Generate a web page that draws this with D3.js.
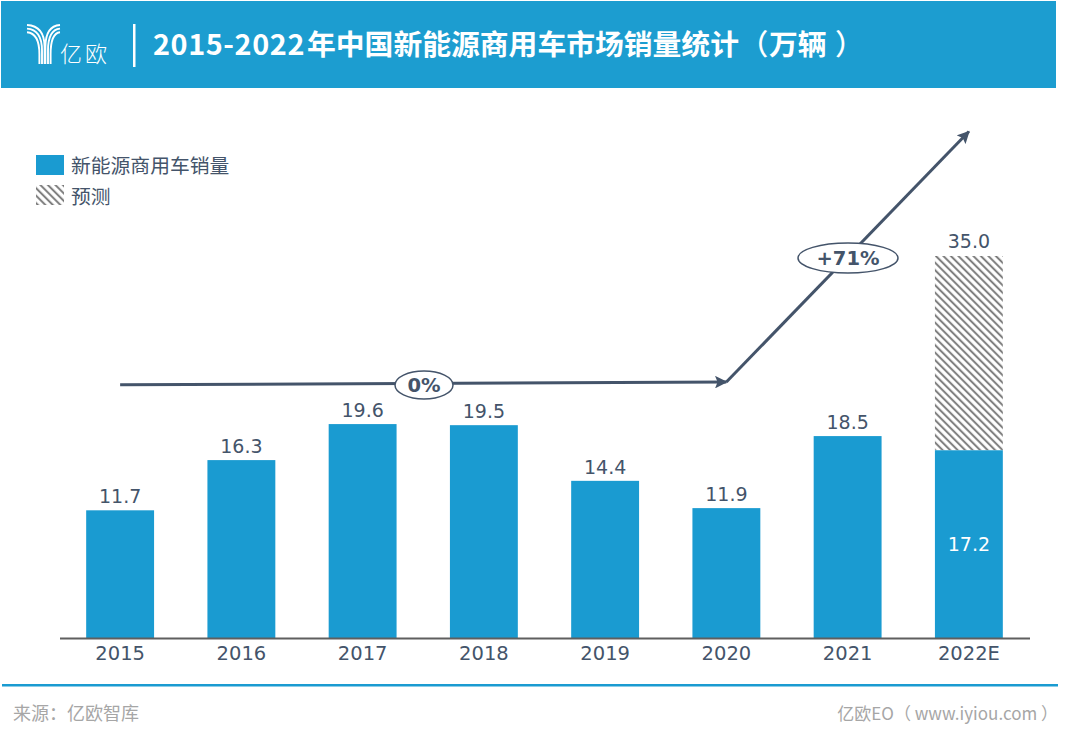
<!DOCTYPE html>
<html>
<head>
<meta charset="utf-8">
<script src="https://cdn.jsdelivr.net/npm/d3@7/dist/d3.min.js"></script>
<style>
  html, body { margin: 0; padding: 0; background: #fff; }
  text { font-family: "DejaVu Sans", "Noto Sans CJK SC", sans-serif; }
  .cjk { font-family: "Noto Sans CJK SC", sans-serif; }
</style>
</head>
<body>
<div id="chart"></div>
<script>
// Chart data
const years = ["2015", "2016", "2017", "2018", "2019", "2020", "2021", "2022E"];
const sales = [11.7, 16.3, 19.6, 19.5, 14.4, 11.9, 18.5, 17.2];
const forecastYear = "2022E";
const forecastTotal = 35.0;
const flatArrow = [["2015", 23.2], ["2020", 23.45]];
const riseArrow = [["2020", 23.45], ["2022E", 46.4]];
const legendLabels = ["新能源商用车销量", "预测"];

const width = 1080, height = 743;
const blue = "#1a9bd1", dark = "#44546a";
const margin = { left: 59.5, right: 50.5, bottom: 105 };

let svg = d3.select("#chart")
    .append("svg")
    .attr("width", width)
    .attr("height", height)
    .style("display", "block");

// Hatch pattern for the forecast bar
let defs = svg.append("defs");
let hatch = defs.append("pattern")
    .attr("id", "hatch")
    .attr("patternUnits", "userSpaceOnUse")
    .attr("width", 5.3)
    .attr("height", 5.3)
    .attr("patternTransform", "rotate(45)");
hatch.append("rect").attr("width", 5.3).attr("height", 5.3).attr("fill", "#fff");
hatch.append("line")
    .attr("x1", 0).attr("y1", 1.5).attr("x2", 5.3).attr("y2", 1.5)
    .attr("stroke", "#6e6e6e")
    .attr("stroke-width", 1.8);

defs.append("marker")
    .attr("id", "arrow")
    .attr("viewBox", "0 0 10 10")
    .attr("refX", 9)
    .attr("refY", 5)
    .attr("markerWidth", 4.2)
    .attr("markerHeight", 4.2)
    .attr("orient", "auto")
    .append("path")
    .attr("d", "M0,0L10,5L0,10L2,5Z")
    .attr("fill", dark);

// Scales
let xScale = d3.scaleBand()
    .domain(years)
    .range([margin.left, width - margin.right])
    .paddingInner(0.44)
    .paddingOuter(0.22);

let yScale = d3.scaleLinear()
    .domain([0, 35])
    .range([height - margin.bottom, 256]);

const centre = d => xScale(d) + xScale.bandwidth() / 2;

// Header band
svg.append("rect")
    .attr("x", 1).attr("y", 1).attr("width", 1055).attr("height", 87)
    .attr("fill", "#1c9dd0");

// Logo
let logo = svg.append("g")
    .attr("fill", "none")
    .attr("stroke", "#fff")
    .attr("stroke-width", 1.9);
[0, 1, 2].forEach(function(i) {
    let y0 = 25 + i * 3.6;
    let left = 44.6 - i * 2.6, right = 45.4 + i * 2.6;
    logo.append("path").attr("d", `M27,${y0} Q${left},${y0 + 1} ${left},${y0 + 22} L${left},64`);
    logo.append("path").attr("d", `M60,${y0} Q${right},${y0 + 1} ${right},${y0 + 22} L${right},64`);
});
svg.append("text")
    .attr("class", "cjk")
    .attr("x", 60).attr("y", 62)
    .attr("fill", "#fff")
    .attr("font-size", 22)
    .attr("font-weight", 300)
    .attr("letter-spacing", 3)
    .text("亿欧");
svg.append("rect")
    .attr("x", 133).attr("y", 24).attr("width", 2.5).attr("height", 43)
    .attr("fill", "#fff");

// Title
let title = svg.append("text")
    .attr("class", "cjk")
    .attr("y", 55)
    .attr("fill", "#fff")
    .attr("font-size", 28.8)
    .attr("font-weight", 700);
title.append("tspan").attr("x", 153).attr("letter-spacing", 0.6).text("2015-2022");
title.append("tspan").attr("x", 307).text("年中国新能源商用车市场销量统计");
title.append("tspan").attr("x", 739.5).attr("font-weight", 500).text("（");
title.append("tspan").attr("x", 769).text("万辆");
title.append("tspan").attr("x", 835).attr("font-weight", 500).text("）");

// Legend
svg.append("rect")
    .attr("x", 36).attr("y", 155).attr("width", 28).attr("height", 20)
    .attr("fill", blue);
svg.append("rect")
    .attr("x", 36).attr("y", 185).attr("width", 28).attr("height", 20)
    .attr("fill", "url(#hatch)");
svg.selectAll(".legend")
    .data(legendLabels)
    .enter()
    .append("text")
    .attr("class", "cjk")
    .attr("x", 71)
    .attr("y", (d, i) => 173 + i * 31)
    .attr("fill", dark)
    .attr("font-size", 19.8)
    .text(d => d);

// Forecast bar sits on top of the 2022E sales bar
svg.append("rect")
    .attr("x", xScale(forecastYear))
    .attr("y", yScale(forecastTotal))
    .attr("width", xScale.bandwidth())
    .attr("height", yScale(sales[years.indexOf(forecastYear)]) - yScale(forecastTotal))
    .attr("fill", "url(#hatch)");

svg.selectAll(".bar")
    .data(years)
    .enter()
    .append("rect")
    .attr("class", "bar")
    .attr("x", d => xScale(d))
    .attr("y", (d, i) => yScale(sales[i]))
    .attr("width", xScale.bandwidth())
    .attr("height", (d, i) => yScale(0) - yScale(sales[i]))
    .attr("fill", blue);

// Value labels
svg.selectAll(".value")
    .data(years)
    .enter()
    .append("text")
    .attr("x", d => centre(d))
    .attr("y", (d, i) => d === forecastYear ? yScale(sales[i] / 2) + 7 : yScale(sales[i]) - 7)
    .attr("text-anchor", "middle")
    .attr("fill", d => d === forecastYear ? "#fff" : dark)
    .attr("font-size", 19)
    .text((d, i) => sales[i].toFixed(1));

svg.append("text")
    .attr("x", centre(forecastYear))
    .attr("y", yScale(forecastTotal) - 8)
    .attr("text-anchor", "middle")
    .attr("fill", dark)
    .attr("font-size", 19)
    .text(forecastTotal.toFixed(1));

// x axis
let xAxis = svg.append("g")
    .attr("transform", `translate(0, ${yScale(0)})`)
    .call(d3.axisBottom(xScale).tickSize(0).tickPadding(8));
xAxis.select(".domain").attr("stroke", "#5f5f5f").attr("stroke-width", 2);
xAxis.selectAll("text")
    .attr("fill", dark)
    .attr("font-size", 19.5)
    .style("font-family", '"DejaVu Sans", sans-serif');

// Growth arrows
const arrowLine = d3.line().x(d => centre(d[0])).y(d => yScale(d[1]));
[flatArrow, riseArrow].forEach(function(pts) {
    svg.append("path")
        .attr("d", arrowLine(pts))
        .attr("fill", "none")
        .attr("stroke", dark)
        .attr("stroke-width", 3)
        .attr("marker-end", "url(#arrow)");
});

// Growth rate callouts
const callouts = [
    { label: "0%", cx: 424, cy: 385, rx: 29, ry: 14 },
    { label: "+71%", cx: 848, cy: 258, rx: 50, ry: 15 }
];
callouts.forEach(function(c) {
    svg.append("ellipse")
        .attr("cx", c.cx).attr("cy", c.cy).attr("rx", c.rx).attr("ry", c.ry)
        .attr("fill", "#fff")
        .attr("stroke", dark)
        .attr("stroke-width", 1.5);
    svg.append("text")
        .attr("x", c.cx).attr("y", c.cy + 7)
        .attr("text-anchor", "middle")
        .attr("fill", dark)
        .attr("font-size", 19.5)
        .attr("font-weight", 700)
        .text(c.label);
});

// Footer
svg.append("rect")
    .attr("x", 2).attr("y", 684).attr("width", 1056).attr("height", 2.5)
    .attr("fill", blue);
svg.append("text")
    .attr("class", "cjk")
    .attr("x", 13).attr("y", 720)
    .attr("fill", "#a6a6a6")
    .attr("font-size", 18)
    .text("来源：亿欧智库");
svg.append("text")
    .attr("class", "cjk")
    .attr("x", 1058).attr("y", 720)
    .attr("text-anchor", "end")
    .attr("fill", "#a6a6a6")
    .attr("font-size", 17)
    .text("亿欧EO（ www.iyiou.com ）");
</script>
</body>
</html>
